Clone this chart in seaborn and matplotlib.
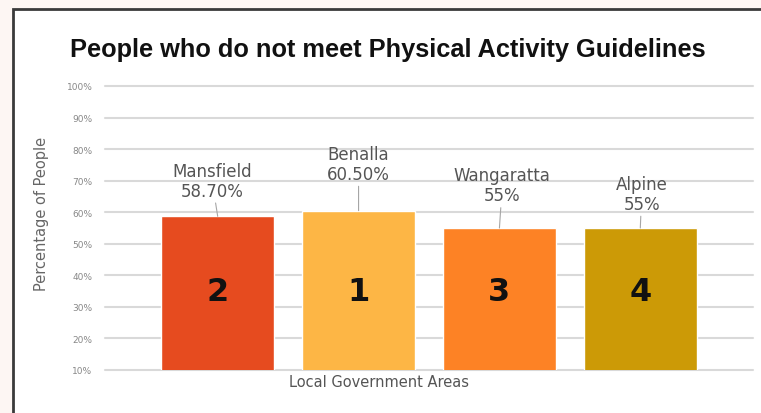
import matplotlib
matplotlib.use("Agg")
import matplotlib.pyplot as plt
from matplotlib.patches import Rectangle
import seaborn as sns
import pandas as pd

# chart data
regions = ["Mansfield", "Benalla", "Wangaratta", "Alpine"]
values = [58.7, 60.5, 55.0, 55.0]
value_labels = ["58.70%", "60.50%", "55%", "55%"]
ranks = ["2", "1", "3", "4"]
bar_colors = ["#E64B1F", "#FDB645", "#FD8225", "#CC9A06"]
y_ticks = [10, 20, 30, 40, 50, 60, 70, 80, 90, 100]

# where each callout sits (x offset, y in data units)
label_pos = [(-0.04, 70.0), (0.0, 75.3), (0.02, 68.5), (0.01, 65.8)]

df = pd.DataFrame({"region": regions, "value": values})

sns.set_style("white")
plt.rcParams["font.family"] = ["DejaVu Sans"]

fig = plt.figure(figsize=(7.61, 4.14), dpi=100)
fig.patch.set_facecolor("#FDF6F3")
frame = Rectangle((13 / 761, -0.2), 1.3, 1.2 - 10 / 414, transform=fig.transFigure,
                  facecolor="white", edgecolor="#3a3a3a", linewidth=2, zorder=-5)
fig.patches.append(frame)

ax = fig.add_axes([105 / 761, 1 - 371 / 414, (753 - 105) / 761, (371 - 87) / 414])
ax.set_zorder(2)
ax.set_facecolor("none")

sns.barplot(data=df, x="region", y="value", hue="region", palette=bar_colors,
            legend=False, width=0.8, saturation=1, ax=ax, zorder=3)

ax.set_xlim(-0.8, 3.8)
ax.set_ylim(10, 100)
ax.set_yticks(y_ticks)
ax.set_yticklabels([f"{t}%" for t in y_ticks], fontsize=6.5, color="#888888")
ax.tick_params(axis="y", length=0, pad=9)
ax.set_xticks([])
ax.set_xlabel("")
ax.set_ylabel("")
ax.yaxis.grid(True, color="#d9d9d9", linewidth=1.5, zorder=0)
ax.set_axisbelow(True)
for gl in ax.get_ygridlines():
    gl.set_clip_on(False)
for s in ax.spines.values():
    s.set_visible(False)

for i, (name, lab, rk) in enumerate(zip(regions, value_labels, ranks)):
    dx, ty = label_pos[i]
    ax.annotate(f"{name}\n{lab}", xy=(i, values[i]), xytext=(i + dx, ty),
                ha="center", va="center", fontsize=12, color="#555555",
                linespacing=1.15,
                arrowprops=dict(arrowstyle="-", color="#a6a6a6", lw=0.8,
                                shrinkA=0, shrinkB=0))
    ax.text(i, 35, rk, ha="center", va="center", fontsize=23,
            fontweight="bold", color="#111111", zorder=5)

fig.text(388 / 761, 1 - 50 / 414, "People who do not meet Physical Activity Guidelines",
         ha="center", va="center", fontsize=18.3, fontweight="bold",
         family=["Liberation Sans"], color="#111111")
fig.text(42 / 761, 1 - 214 / 414, "Percentage of People", rotation=90,
         ha="center", va="center", fontsize=10.5, color="#666666")
fig.text(379 / 761, 1 - 383 / 414, "Local Government Areas",
         ha="center", va="center", fontsize=10.5, color="#555555")

fig.savefig("out.png", dpi=100, facecolor=fig.get_facecolor())
